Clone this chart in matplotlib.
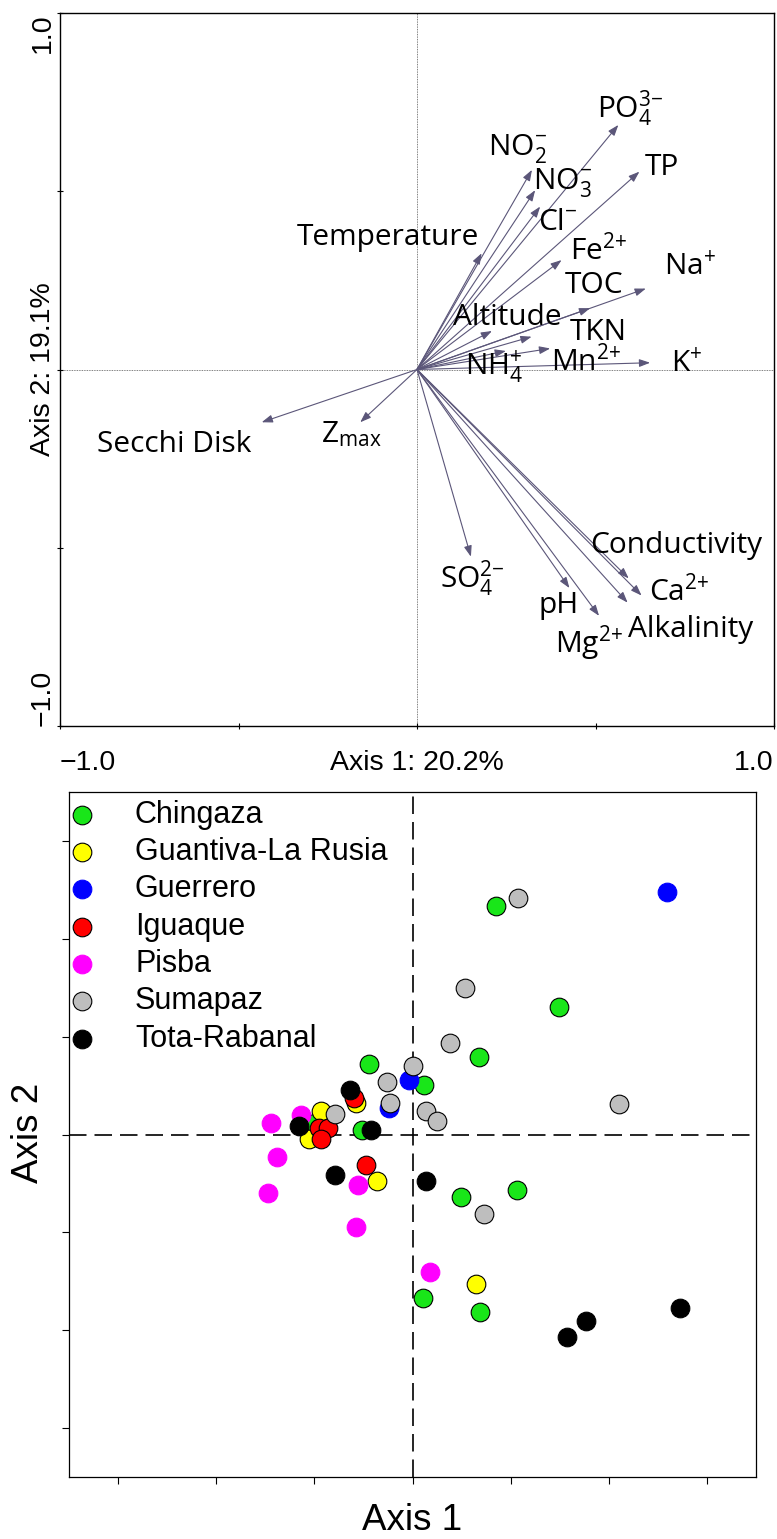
import matplotlib.pyplot as plt
from matplotlib.font_manager import FontProperties

plt.rcParams['mathtext.fontset'] = 'custom'
plt.rcParams['mathtext.rm'] = 'Open Sans'
plt.rcParams['mathtext.it'] = 'Open Sans:italic'
plt.rcParams['mathtext.bf'] = 'Open Sans:bold'

# ---- RDA biplot: environmental variables (arrow tips) ----
# signs wrapped in {} so mathtext does not space them like operators
var_labels = [r'PO$_4^{3{-}}$', 'TP', r'NO$_2^{{-}}$', r'NO$_3^{{-}}$', r'Cl$^{{-}}$',
              'Temperature', r'Fe$^{2{+}}$', r'Na$^{{+}}$', 'TOC', 'Altitude',
              'TKN', r'Mn$^{2{+}}$', r'K$^{{+}}$', r'NH$_4^{{+}}$', 'Secchi Disk',
              r'Z$_\mathrm{max}$', r'SO$_4^{2{-}}$', 'pH', r'Mg$^{2{+}}$',
              'Alkalinity', r'Ca$^{2{+}}$', 'Conductivity']
var_x = [0.564, 0.623, 0.322, 0.331, 0.345, 0.181, 0.405, 0.641, 0.485,
         0.210, 0.321, 0.373, 0.653, 0.249, -0.435, -0.159, 0.151, 0.427,
         0.510, 0.590, 0.629, 0.593]
var_y = [0.686, 0.555, 0.560, 0.503, 0.457, 0.326, 0.307, 0.227, 0.172,
         0.108, 0.092, 0.059, 0.019, 0.052, -0.148, -0.148, -0.525, -0.613,
         -0.691, -0.654, -0.634, -0.586]

# label anchors (left, baseline), layout only
lab_x = [0.504, 0.639, 0.199, 0.325, 0.339, -0.336, 0.429, 0.692, 0.415,
         0.101, 0.429, 0.375, 0.711, 0.134, -0.896, -0.269, 0.064, 0.339,
         0.387, 0.591, 0.650, 0.485]
lab_y = [0.705, 0.545, 0.601, 0.506, 0.391, 0.349, 0.307, 0.265, 0.215,
         0.125, 0.083, -0.004, -0.007, -0.015, -0.231, -0.203, -0.613, -0.684,
         -0.793, -0.751, -0.648, -0.515]

top_ticks = [-1.0, -0.5, 0.0, 0.5, 1.0]
x_ticklabels = ['\u22121.0', '', 'Axis 1: 20.2%', '', '1.0']
y_ticklabels = ['\u22121.0', '', 'Axis 2: 19.1%', '', '1.0']

# ---- site scores by park ----
groups = ['Chingaza', 'Guantiva-La Rusia', 'Guerrero', 'Iguaque', 'Pisba',
          'Sumapaz', 'Tota-Rabanal']
chingaza_x = [0.849, 1.490, 0.673, -0.446, 0.119, -0.997, -0.519, 0.497, 1.062, 0.109, 0.684]
chingaza_y = [2.337, 1.299, 0.793, 0.724, 0.510, 0.122, 0.041, -0.640, -0.568, -1.666, -1.813]
guantiva_x = [-0.580, -0.936, -1.055, -0.366, 0.648]
guantiva_y = [0.323, 0.238, -0.051, -0.475, -1.531]
guerrero_x = [2.589, -0.031, -0.239]
guerrero_y = [2.477, 0.556, 0.272]
iguaque_x = [-0.597, -0.953, -0.862, -0.936, -0.471]
iguaque_y = [0.374, 0.068, 0.068, -0.051, -0.316]
pisba_x = [-1.445, -1.139, -1.378, -1.469, -0.551, -0.572, 0.179]
pisba_y = [0.119, 0.204, -0.228, -0.595, -0.520, -0.942, -1.405]
sumapaz_x = [1.076, 0.537, 0.387, 0.005, -0.258, -0.229, 0.137, 0.251, 2.100, -0.793, 0.733]
sumapaz_y = [2.421, 1.497, 0.936, 0.697, 0.541, 0.321, 0.245, 0.136, 0.313, 0.209, -0.816]
tota_x = [-0.641, -1.157, -0.427, -0.788, 0.137, 2.730, 1.767, 1.571]
tota_y = [0.459, 0.085, 0.041, -0.418, -0.480, -1.768, -1.905, -2.068]

group_x = [chingaza_x, guantiva_x, guerrero_x, iguaque_x, pisba_x, sumapaz_x, tota_x]
group_y = [chingaza_y, guantiva_y, guerrero_y, iguaque_y, pisba_y, sumapaz_y, tota_y]
fills = ['#19e619', '#ffff00', '#0000ff', '#ff0000', '#ff00ff', '#bebebe', '#000000']
edges = ['#000000', '#000000', '#0000ff', '#000000', '#ff00ff', '#000000', '#000000']
bottom_ticks = [-3, -2, -1, 0, 1, 2, 3]

W, H = 777, 1539
fig = plt.figure(figsize=(W / 100, H / 100), dpi=100)

# ---------------- top panel ----------------
ax1 = fig.add_axes([60 / W, (H - 726) / H, (774 - 60) / W, (726 - 13) / H])
ax1.set_xlim(-1, 1)
ax1.set_ylim(-1, 1)
ax1.axhline(0, color='#555555', lw=0.6, ls=(0, (1, 1)), zorder=1)
ax1.axvline(0, color='#555555', lw=0.6, ls=(0, (1, 1)), zorder=1)

arrow_col = '#5b5679'
label_font = 'Open Sans'
for name, vx, vy, tx, ty in zip(var_labels, var_x, var_y, lab_x, lab_y):
    ax1.annotate('', xy=(vx, vy), xytext=(0, 0),
                 arrowprops=dict(arrowstyle='-|>,head_length=0.5,head_width=0.18',
                                 color=arrow_col, lw=0.8, mutation_scale=13,
                                 shrinkA=0, shrinkB=0), zorder=2)
    ax1.text(tx, ty, name, fontsize=21.5, family=label_font, ha='left',
             va='baseline', zorder=3)

tick_font = FontProperties(family='Liberation Sans', size=20.5)
ax1.set_xticks(top_ticks)
ax1.set_yticks(top_ticks)
ax1.set_xticklabels(x_ticklabels, fontproperties=tick_font)
ax1.set_yticklabels(y_ticklabels, fontproperties=tick_font, rotation=90)
xl = ax1.get_xticklabels()
xl[0].set_ha('left')
xl[-1].set_ha('right')
yl = ax1.get_yticklabels()
for t in yl:
    t.set_va('center')
yl[0].set_va('bottom')
yl[-1].set_va('top')
ax1.tick_params(axis='both', direction='inout', length=4.5, width=0.8)
ax1.tick_params(axis='x', pad=15)
ax1.tick_params(axis='y', pad=0.7)
for sp in ax1.spines.values():
    sp.set_linewidth(1.0)

# ---------------- bottom panel ----------------
ax2 = fig.add_axes([69 / W, (H - 1477) / H, (756 - 69) / W, (1477 - 792) / H])
ax2.set_xlim(-3.5, 3.5)
ax2.set_ylim(-3.5, 3.5)
ax2.axhline(0, color='black', lw=1.2, ls=(0, (10.5, 4.8)), zorder=1)
ax2.axvline(0, color='black', lw=1.2, ls=(0, (10.5, 4.8)), zorder=1)

handles = []
for name, gx, gy, fc, ec in zip(groups, group_x, group_y, fills, edges):
    h = ax2.scatter(gx, gy, s=180, c=fc, edgecolors=ec, linewidths=0.8,
                    zorder=3, label=name)
    handles.append(h)

ax2.set_xticks(bottom_ticks)
ax2.set_yticks(bottom_ticks)
ax2.set_xticklabels([])
ax2.set_yticklabels([])
ax2.tick_params(axis='both', direction='out', length=5, width=0.8)
for sp in ax2.spines.values():
    sp.set_linewidth(0.9)

ax2.legend(handles=handles, loc='upper left', bbox_to_anchor=(0, 1),
           frameon=False, prop=FontProperties(family='Liberation Sans', size=22),
           handlelength=0.35, handletextpad=1.56, borderaxespad=0,
           borderpad=0.25, labelspacing=0.24, scatterpoints=1)

ax2.set_xlabel('Axis 1', fontsize=26.5, family='Liberation Sans')
ax2.set_ylabel('Axis 2', fontsize=26.5, family='Liberation Sans')
ax2.xaxis.label.set_va('baseline')
ax2.yaxis.label.set_va('baseline')
ax2.xaxis.set_label_coords(0.5, (1477 - 1530) / 685)
ax2.yaxis.set_label_coords((38 - 69) / 687, (1477 - 1132.5) / 685)

fig.savefig('out.png', dpi=100)
